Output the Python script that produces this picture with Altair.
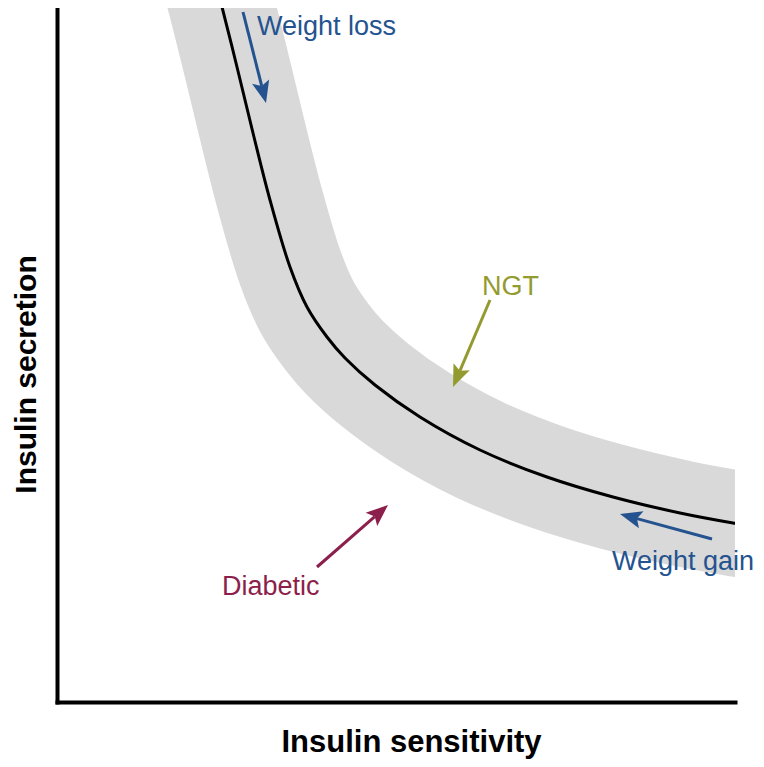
import altair as alt
import numpy as np
import pandas as pd

# Schematic curve (arbitrary units): insulin sensitivity vs insulin secretion
curve_sens = [159, 164, 180, 196, 213, 233, 250, 270, 288, 318, 363, 423, 490, 556, 623, 676, 708]
curve_secr = [717, 699, 635, 569, 502, 435, 395, 365, 344, 317, 285, 252, 225, 205, 189, 179, 174]

# Annotations: arrow start (x0, y0) -> tip (x1, y1), label anchor
ann_labels = ["Weight loss", "NGT", "Diabetic", "Weight gain"]
arrow_x0 = [186, 433, 260, 655]
arrow_y0 = [690, 402, 135, 163]
arrow_x1 = [209, 396, 331, 563]
arrow_y1 = [599, 315, 197, 188]
label_x = [200, 425, 165, 555]
label_y = [667, 407, 107, 132]
ann_colors = ["#24538f", "#939b30", "#8c1f4c", "#24538f"]

X_DOMAIN = [0, 678]
Y_DOMAIN = [0, 694]
HEAD_LEN = 22

curve = pd.DataFrame({"x": curve_sens, "y": curve_secr, "order": range(len(curve_sens))})

arr = pd.DataFrame({
    "label": ann_labels,
    "x0": arrow_x0, "y0": arrow_y0, "x1": arrow_x1, "y1": arrow_y1,
    "lx": label_x, "ly": label_y,
})
dx = arr["x1"] - arr["x0"]
dy = arr["y1"] - arr["y0"]
L = np.sqrt(dx ** 2 + dy ** 2)
arr["sx"] = arr["x1"] - dx / L * HEAD_LEN * 0.8
arr["sy"] = arr["y1"] - dy / L * HEAD_LEN * 0.8
# screen-space angle (y is flipped on screen)
arr["angle"] = (np.degrees(np.arctan2(dx, dy)) + 360) % 360

xs = alt.Scale(domain=X_DOMAIN, nice=False, zero=False)
ys = alt.Scale(domain=Y_DOMAIN, nice=False, zero=False)
cs = alt.Scale(domain=ann_labels, range=ann_colors)

x_axis = alt.Axis(
    title="Insulin sensitivity", ticks=False, labels=False, grid=False,
    domainWidth=4, domainColor="black", domainCap="square",
    titleFontSize=31, titleFont="Liberation Sans", titleFontWeight="bold",
    titleColor="black", titleX=354, titleY=49, titleBaseline="alphabetic",
    titleAlign="center",
)
y_axis = alt.Axis(
    title="Insulin secretion", ticks=False, labels=False, grid=False,
    domainWidth=4, domainColor="black", domainCap="square",
    titleFontSize=30, titleFont="Liberation Sans", titleFontWeight="bold",
    titleColor="black", titleAngle=270, titleX=-22, titleY=366,
    titleBaseline="alphabetic", titleAlign="center",
)

band = alt.Chart(curve).mark_line(
    color="#d9d9d9", strokeWidth=106, interpolate="catmull-rom", clip=True,
    strokeJoin="round", strokeCap="butt",
).encode(
    x=alt.X("x:Q", scale=xs, axis=x_axis),
    y=alt.Y("y:Q", scale=ys, axis=y_axis),
    order="order:Q",
)

line = alt.Chart(curve).mark_line(
    color="black", strokeWidth=3, interpolate="catmull-rom", clip=True,
).encode(
    x=alt.X("x:Q", scale=xs),
    y=alt.Y("y:Q", scale=ys),
    order="order:Q",
)

shafts = alt.Chart(arr).mark_rule(strokeWidth=3).encode(
    x=alt.X("x0:Q", scale=xs),
    y=alt.Y("y0:Q", scale=ys),
    x2="sx:Q",
    y2="sy:Q",
    color=alt.Color("label:N", scale=cs, legend=None),
)

heads = alt.Chart(arr).mark_point(
    shape="M0,0L-0.4,1L0,0.8L0.4,1Z", filled=True, opacity=1,
    size=HEAD_LEN ** 2 * 4, strokeWidth=0,
).encode(
    x=alt.X("x1:Q", scale=xs),
    y=alt.Y("y1:Q", scale=ys),
    angle=alt.Angle("angle:Q", scale=None),
    color=alt.Color("label:N", scale=cs, legend=None),
)

texts = alt.Chart(arr).mark_text(
    align="left", baseline="alphabetic", fontSize=27, font="Liberation Sans",
).encode(
    x=alt.X("lx:Q", scale=xs),
    y=alt.Y("ly:Q", scale=ys),
    text="label:N",
    color=alt.Color("label:N", scale=cs, legend=None),
)

chart = alt.layer(band, line, shafts, heads, texts).properties(
    width=678, height=694,
    padding={"left": 49, "top": 0, "right": 21, "bottom": 57},
    autosize=alt.AutoSizeParams(type="none"),
    background="white",
).configure_view(stroke=None)

chart.save("out.html", embed_options={"renderer": "svg", "actions": False})
